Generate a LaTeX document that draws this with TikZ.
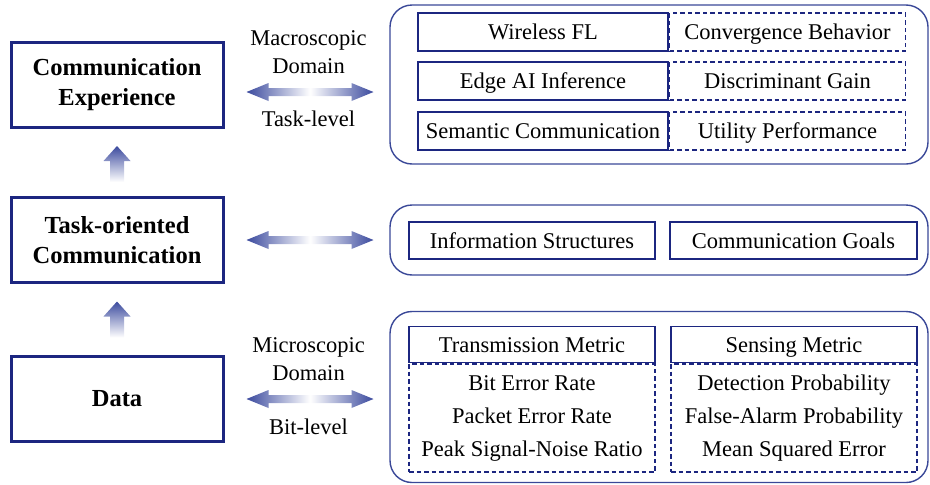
\documentclass[tikz,border=0pt]{standalone}
\usepackage{fontspec}
\setmainfont{Liberation Serif}
\usepackage{xcolor}
\usetikzlibrary{positioning,calc}

\definecolor{navy}{HTML}{1C2680}
\definecolor{panelblue}{HTML}{3A4898}
\definecolor{arrblue}{HTML}{3B4A9E}

\begin{document}
\begin{tikzpicture}[
    x=1pt, y=-1pt,
    mainbox/.style={rectangle, draw=navy, line width=3pt, minimum width=212, minimum height=85, align=center, font=\fontsize{24.5}{30}\selectfont\bfseries},
    panel/.style={rectangle, draw=panelblue, line width=1.4pt, rounded corners=22pt},
    solidbox/.style={rectangle, draw=navy, line width=1.5pt, minimum height=38, inner sep=0pt, text height=17pt, text depth=2pt, font=\fontsize{22.5}{28}\selectfont},
    dashbox/.style={solidbox, dash pattern=on 4.5pt off 3pt},
    listbox/.style={rectangle, draw=navy, line width=1.5pt, dash pattern=on 4.5pt off 3pt, inner sep=0pt, minimum width=246, minimum height=108, align=center, font=\fontsize{22.5}{33}\selectfont},
    lbl/.style={align=center, font=\fontsize{22.5}{28}\selectfont},
    hshade/.style={left color=arrblue, right color=arrblue, middle color=white},
    vshade/.style={top color=arrblue, bottom color=white}
]
\useasboundingbox (0,0) rectangle (930,485);

% left column
\node[mainbox] (exp) at (117,84.5) {Communication\\Experience};
\node[mainbox] (task) at (117,240) {Task-oriented\\Communication};
\node[mainbox] (data) at (117,398.5) {Data};

% upward arrows
\coordinate (up1) at ($(task.north)+(0,-14)$);
\coordinate (up2) at ($(data.north)+(0,-17)$);
\shade[vshade] (up1) -- ++(-7,0) -- ++(0,-21) -- ++(-6.5,0) -- ++(13.5,-15) -- ++(13.5,15) -- ++(-6.5,0) -- ++(0,21) -- cycle;
\shade[vshade] (up2) -- ++(-7,0) -- ++(0,-21) -- ++(-6.5,0) -- ++(13.5,-15) -- ++(13.5,15) -- ++(-6.5,0) -- ++(0,21) -- cycle;

% right panels
\node[panel, minimum width=538, minimum height=159] (top) at (659,84.5) {};
\node[panel, minimum width=538, minimum height=70] (mid) at (659,240) {};
\node[panel, minimum width=538, minimum height=171] (bot) at (659,397) {};

% horizontal arrows
\coordinate (h1) at ($(exp.east)+(22,7.5)$);
\coordinate (h2) at ($(task.east)+(22,0)$);
\coordinate (h3) at ($(data.east)+(22,0.5)$);
\foreach \h in {h1,h2,h3}
  \shade[hshade] (\h) -- ++(22,-9) -- ++(0,5) -- ++(83,0) -- ++(0,-5) -- ++(22,9) -- ++(-22,9) -- ++(0,-5) -- ++(-83,0) -- ++(0,5) -- cycle;

\node[lbl] (macro) at (308.5,52) {Macroscopic\\Domain};
\node[lbl] (tasklvl) at (308.5,119) {Task-level};
\node[lbl] (micro) at (308.5,359) {Microscopic\\Domain};
\node[lbl] (bitlvl) at (308.5,427) {Bit-level};

% task-level rows
\node[solidbox, minimum width=250] (fl) at (543,32) {Wireless FL};
\node[dashbox, minimum width=236, right=0pt of fl] (flm) {Convergence Behavior};
\node[solidbox, minimum width=250] (edge) at (543,81) {Edge AI Inference};
\node[dashbox, minimum width=236, right=0pt of edge] (edgem) {Discriminant Gain};
\node[solidbox, minimum width=250] (sem) at (543,131) {Semantic Communication};
\node[dashbox, minimum width=236, right=0pt of sem] (semm) {Utility Performance};

% task-oriented
\node[solidbox, minimum width=246, minimum height=37] (info) at (532,240.5) {Information Structures};
\node[solidbox, minimum width=247, minimum height=37] (goals) at (793.5,240.5) {Communication Goals};

% bit-level metrics
\node[listbox] (tml) at (532,418) {Bit Error Rate\\Packet Error Rate\\Peak Signal-Noise Ratio};
\node[solidbox, minimum width=246, minimum height=36, above=0pt of tml] (tm) {Transmission Metric};
\node[listbox] (sml) at (794,418) {Detection Probability\\False-Alarm Probability\\Mean Squared Error};
\node[solidbox, minimum width=246, minimum height=36, above=0pt of sml] (sm) {Sensing Metric};

\end{tikzpicture}
\end{document}
